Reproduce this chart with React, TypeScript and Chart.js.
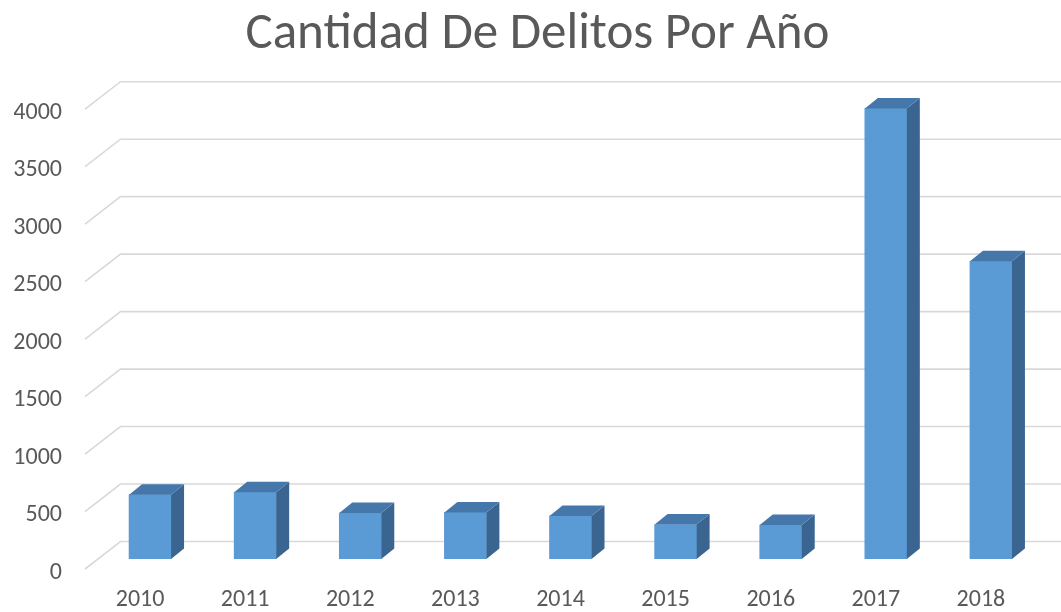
import React, { useEffect, useRef } from "react";
import { Chart, registerables } from "chart.js";

Chart.register(...registerables);

const TITLE = "Cantidad De Delitos Por Año";
const categories = ["2010", "2011", "2012", "2013", "2014", "2015", "2016", "2017", "2018"];
const delitos = [560, 580, 400, 405, 375, 300, 295, 3920, 2590];
const yTickMin = 0;
const yTickMax = 4000;
const yTickStep = 500;

const FONT = "Carlito, Lato, 'Open Sans', sans-serif";
const TEXT_COLOR = "#595959";
const FRONT = "#5b9bd5";
const TOP = "#4677ab";
const SIDE = "#3a6591";
const GRID = "#d9d9d9";

const wallPlugin = {
  id: "wall3d",
  beforeDatasetsDraw(chart: any) {
    const { ctx, chartArea, scales } = chart;
    const y = scales.y;
    ctx.save();
    ctx.strokeStyle = GRID;
    ctx.lineWidth = 1.6;
    for (const t of y.ticks) {
      const yf = y.getPixelForValue(t.value);
      ctx.beginPath();
      ctx.moveTo(chartArea.left - 12.5, yf + 10);
      ctx.lineTo(chartArea.left + 23, yf - 17.5);
      ctx.lineTo(chart.width, yf - 17.5);
      ctx.stroke();
    }
    ctx.restore();
  },
  afterDatasetsDraw(chart: any) {
    const { ctx } = chart;
    const dx = 13;
    const dy = 10.5;
    ctx.save();
    chart.getDatasetMeta(0).data.forEach((el: any) => {
      const left = el.x - el.width / 2;
      const right = el.x + el.width / 2;
      const top = el.y;
      const base = el.base;
      ctx.fillStyle = SIDE;
      ctx.beginPath();
      ctx.moveTo(right, top);
      ctx.lineTo(right + dx, top - dy);
      ctx.lineTo(right + dx, base - dy);
      ctx.lineTo(right, base);
      ctx.closePath();
      ctx.fill();
      ctx.fillStyle = TOP;
      ctx.beginPath();
      ctx.moveTo(left, top);
      ctx.lineTo(left + dx, top - dy);
      ctx.lineTo(right + dx, top - dy);
      ctx.lineTo(right, top);
      ctx.closePath();
      ctx.fill();
    });
    ctx.restore();
  },
};

export default function App() {
  const ref = useRef<HTMLCanvasElement | null>(null);
  useEffect(() => {
    if (!ref.current) return;
    const chart = new Chart(ref.current, {
      type: "bar",
      data: {
        labels: categories,
        datasets: [
          {
            label: "Delitos",
            data: delitos,
            backgroundColor: FRONT,
            borderWidth: 0,
            barThickness: 42,
            yAxisID: "y",
          },
        ],
      },
      options: {
        responsive: false,
        animation: false,
        devicePixelRatio: 1,
        layout: { padding: { left: 14, right: 0, top: 0, bottom: 0 } },
        plugins: {
          legend: { display: false },
          tooltip: { enabled: false },
          title: {
            display: true,
            text: TITLE,
            color: TEXT_COLOR,
            font: { family: FONT, size: 51, weight: "normal" },
            padding: { top: 5, bottom: 33 },
          },
        },
        scales: {
          x: {
            grid: { display: false, drawTicks: false },
            border: { display: false },
            ticks: {
              color: TEXT_COLOR,
              font: { family: FONT, size: 24 },
              padding: 26.5,
              labelOffset: -10,
              maxRotation: 0,
            },
            afterFit(scale: any) {
              scale.height = 53;
            },
          },
          y: {
            min: yTickMin,
            max: yTickMax,
            grid: { display: false, drawTicks: false },
            border: { display: false },
            ticks: {
              stepSize: yTickStep,
              color: TEXT_COLOR,
              font: { family: FONT, size: 24 },
              padding: 35.5,
              labelOffset: 13.5,
              callback: (v: any) => String(v),
            },
            afterFit(scale: any) {
              scale.width = 83.5;
            },
          },
          yRight: {
            type: "linear",
            position: "right",
            min: yTickMin,
            max: yTickMax,
            grid: { display: false, drawTicks: false },
            border: { display: false },
            ticks: { display: false },
            afterFit(scale: any) {
              scale.width = 17.5;
            },
          },
        },
      },
      plugins: [wallPlugin],
    });
    return () => chart.destroy();
  }, []);
  return (
    <div style={{ position: "fixed", left: 0, top: 0, width: 1061, height: 612, background: "#fff" }}>
      <canvas ref={ref} width={1061} height={612} style={{ width: 1061, height: 612 }} />
    </div>
  );
}
